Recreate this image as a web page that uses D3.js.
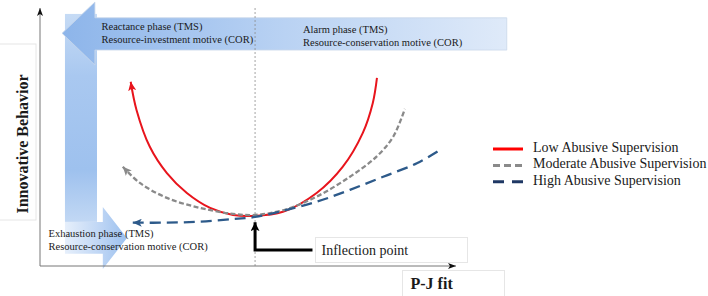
<!DOCTYPE html>
<html>
<head>
<meta charset="utf-8">
<script src="https://cdn.jsdelivr.net/npm/d3@7"></script>
<style>
  body { margin: 0; background: #fff; }
  svg { display: block; font-family: "Liberation Serif", "Times New Roman", serif; }
</style>
</head>
<body>
<svg id="chart" width="708" height="296"></svg>
<script>
// curve samples: [P-J fit, innovative behavior], arbitrary 0-10 units
const lowAbusive = [[2.18, 7.14], [2.32, 6.05], [2.64, 4.62], [3.05, 3.60], [3.53, 2.83], [4.09, 2.25],
  [4.64, 1.98], [5.12, 1.94], [5.84, 2.10], [6.65, 2.83], [7.28, 3.85], [7.76, 5.16], [8.00, 6.32], [8.10, 7.29]];
const moderateAbusive = [[1.99, 3.85], [2.40, 3.22], [3.05, 2.64], [3.85, 2.25], [4.64, 2.02], [5.17, 1.98],
  [5.84, 2.16], [6.65, 2.69], [7.45, 3.46], [8.09, 4.24], [8.49, 5.01], [8.77, 6.09]];
const highAbusive = [[2.23, 1.68], [3.05, 1.68], [3.85, 1.72], [4.64, 1.82], [5.17, 1.90], [5.84, 2.14],
  [6.65, 2.49], [7.45, 2.95], [8.25, 3.46], [9.06, 3.98], [9.62, 4.50]];
const seriesNames = ["Low Abusive Supervision", "Moderate Abusive Supervision", "High Abusive Supervision"];
const inflectionX = 5.17;
const reactanceText = ["Reactance phase (TMS)", "Resource-investment motive (COR)"];
const alarmText = ["Alarm phase (TMS)", "Resource-conservation motive (COR)"];
const exhaustionText = ["Exhaustion phase (TMS)", "Resource-conservation motive (COR)"];

const svg = d3.select("#chart");
const x = d3.scaleLinear().domain([0, 10]).range([40, 456]);
const y = d3.scaleLinear().domain([0, 10]).range([266, 8]);

const defs = svg.append("defs");

function grad(id, x2, y2, stops) {
  const g = defs.append("linearGradient").attr("id", id)
    .attr("x1", 0).attr("y1", 0).attr("x2", x2).attr("y2", y2);
  stops.forEach(s => g.append("stop").attr("offset", s[0]).attr("stop-color", s[1]));
}
grad("hband", 1, 0, [[0, "#8db5ea"], [0.5, "#b9d2f3"], [1, "#dfeaf9"]]);
grad("vband", 0, 1, [[0, "#c6dbf5"], [0.3, "#a9c8f0"], [0.75, "#9ec1ee"], [1, "#c2d8f4"]]);
grad("rarrow", 1, 0, [[0, "#e6effb"], [0.6, "#bcd4f4"], [1, "#9bc0ee"]]);

function marker(id, color, w, h) {
  defs.append("marker").attr("id", id)
    .attr("viewBox", `0 0 ${w} ${h}`)
    .attr("refX", w).attr("refY", h / 2)
    .attr("markerWidth", w).attr("markerHeight", h)
    .attr("markerUnits", "userSpaceOnUse")
    .attr("orient", "auto-start-reverse")
    .append("path")
    .attr("d", `M0,0L${w},${h / 2}L0,${h}L${w * 0.25},${h / 2}Z`)
    .attr("fill", color);
}
marker("arrAxis", "#111", 8, 6);
marker("arrRed", "#e8141c", 9, 8);
marker("arrGray", "#8a8a8a", 9, 8);
marker("arrNavy", "#2d5a8a", 9, 8);
marker("arrBlack", "#000", 9, 9);

// faint label boxes
const boxes = svg.append("g").attr("fill", "none").attr("stroke", "#e6e6e6").attr("stroke-width", 1);
boxes.append("rect").attr("x", -1).attr("y", 44).attr("width", 37).attr("height", 176);
boxes.append("rect").attr("x", 402.5).attr("y", 270.5).attr("width", 102).attr("height", 30);
boxes.append("rect").attr("x", 315.5).attr("y", 237.5).attr("width", 152).attr("height", 25);

// vertical band (exhaustion direction)
svg.append("rect")
  .attr("x", x(0.60)).attr("y", y(9.77))
  .attr("width", x(1.37) - x(0.60)).attr("height", y(1.71) - y(9.77))
  .attr("fill", "url(#vband)");

// bottom right-pointing arrow
const ra = [[0.60, 1.71], [1.51, 1.71], [1.51, 2.29], [2.09, 1.09], [1.51, -0.12], [1.51, 0.47], [0.60, 0.47]];
svg.append("path")
  .attr("d", d3.line().x(d => x(d[0])).y(d => y(d[1]))(ra) + "Z")
  .attr("fill", "url(#rarrow)");

// top left-pointing band
const ha = [[11.22, 9.62], [1.32, 9.62], [1.32, 10.23], [0.53, 9.02], [1.32, 7.79], [1.32, 8.37], [11.22, 8.37]];
svg.append("path")
  .attr("d", d3.line().x(d => x(d[0])).y(d => y(d[1]))(ha) + "Z")
  .attr("fill", "url(#hband)")
  .attr("stroke", "#c9d7ea").attr("stroke-width", 0.8);

// inflection guide
svg.append("line")
  .attr("x1", x(inflectionX)).attr("x2", x(inflectionX))
  .attr("y1", y(10)).attr("y2", y(0))
  .attr("stroke", "#8c8c8c").attr("stroke-width", 0.8).attr("stroke-dasharray", "2,2");

// axes
svg.append("line").attr("x1", x(0)).attr("y1", y(0)).attr("x2", x(0)).attr("y2", y(10))
  .attr("stroke", "#777").attr("stroke-width", 1).attr("marker-end", "url(#arrAxis)");
svg.append("line").attr("x1", x(0)).attr("y1", y(0)).attr("x2", x(10)).attr("y2", y(0))
  .attr("stroke", "#777").attr("stroke-width", 1).attr("marker-end", "url(#arrAxis)");

// curves
const line = d3.line().x(d => x(d[0])).y(d => y(d[1])).curve(d3.curveCatmullRom.alpha(0.5));
const styles = [
  { data: lowAbusive, color: "#e8141c", width: 2, dash: null, marker: "arrRed", legendColor: "#ff0000", legendDash: null },
  { data: moderateAbusive, color: "#8a8a8a", width: 2.3, dash: "5,2.5", marker: "arrGray", legendColor: "#8a8a8a", legendDash: "7,4" },
  { data: highAbusive, color: "#2d5a8a", width: 2.3, dash: "11,6", marker: "arrNavy", legendColor: "#1f3864", legendDash: "11,8" }
];
svg.append("g").selectAll("path").data(styles).join("path")
  .attr("d", d => line(d.data))
  .attr("fill", "none")
  .attr("stroke", d => d.color)
  .attr("stroke-width", d => d.width)
  .attr("stroke-dasharray", d => d.dash)
  .attr("marker-start", d => `url(#${d.marker})`);

// inflection point arrow
svg.append("path")
  .attr("d", d3.line().x(d => x(d[0])).y(d => y(d[1]))([[6.55, 0.62], [inflectionX, 0.62], [inflectionX, 1.70]]))
  .attr("fill", "none").attr("stroke", "#000").attr("stroke-width", 3)
  .attr("marker-end", "url(#arrBlack)");

// texts
const txt = svg.append("g").attr("fill", "#1a1a1a");
function lines(arr, px, py, dy, size) {
  arr.forEach((t, i) => txt.append("text").attr("x", px).attr("y", py + i * dy)
    .attr("font-size", size).text(t));
}
lines(reactanceText, 101.5, 30, 13, 10.5);
lines(alarmText, 303, 32.5, 13, 10.5);
lines(exhaustionText, 48.5, 236.5, 13, 10.5);
txt.append("text").attr("x", 321.5).attr("y", 255).attr("font-size", 14).text("Inflection point");

txt.append("text")
  .attr("transform", "translate(28,144) rotate(-90)")
  .attr("text-anchor", "middle").attr("font-size", 16).attr("font-weight", "bold")
  .text("Innovative Behavior");
txt.append("text").attr("x", 410.5).attr("y", 289).attr("font-size", 16).attr("font-weight", "bold").text("P-J fit");

// legend
const legend = svg.append("g").attr("transform", "translate(493,149)");
const item = legend.selectAll("g").data(styles).join("g")
  .attr("transform", (d, i) => `translate(0,${i * 16.4})`);
item.append("line").attr("x1", 0).attr("x2", 30)
  .attr("stroke", d => d.legendColor).attr("stroke-width", 3)
  .attr("stroke-dasharray", d => d.legendDash);
item.append("text").attr("x", 40).attr("y", 3).attr("font-size", 14).attr("fill", "#1a1a1a")
  .text((d, i) => seriesNames[i]);
</script>
</body>
</html>
